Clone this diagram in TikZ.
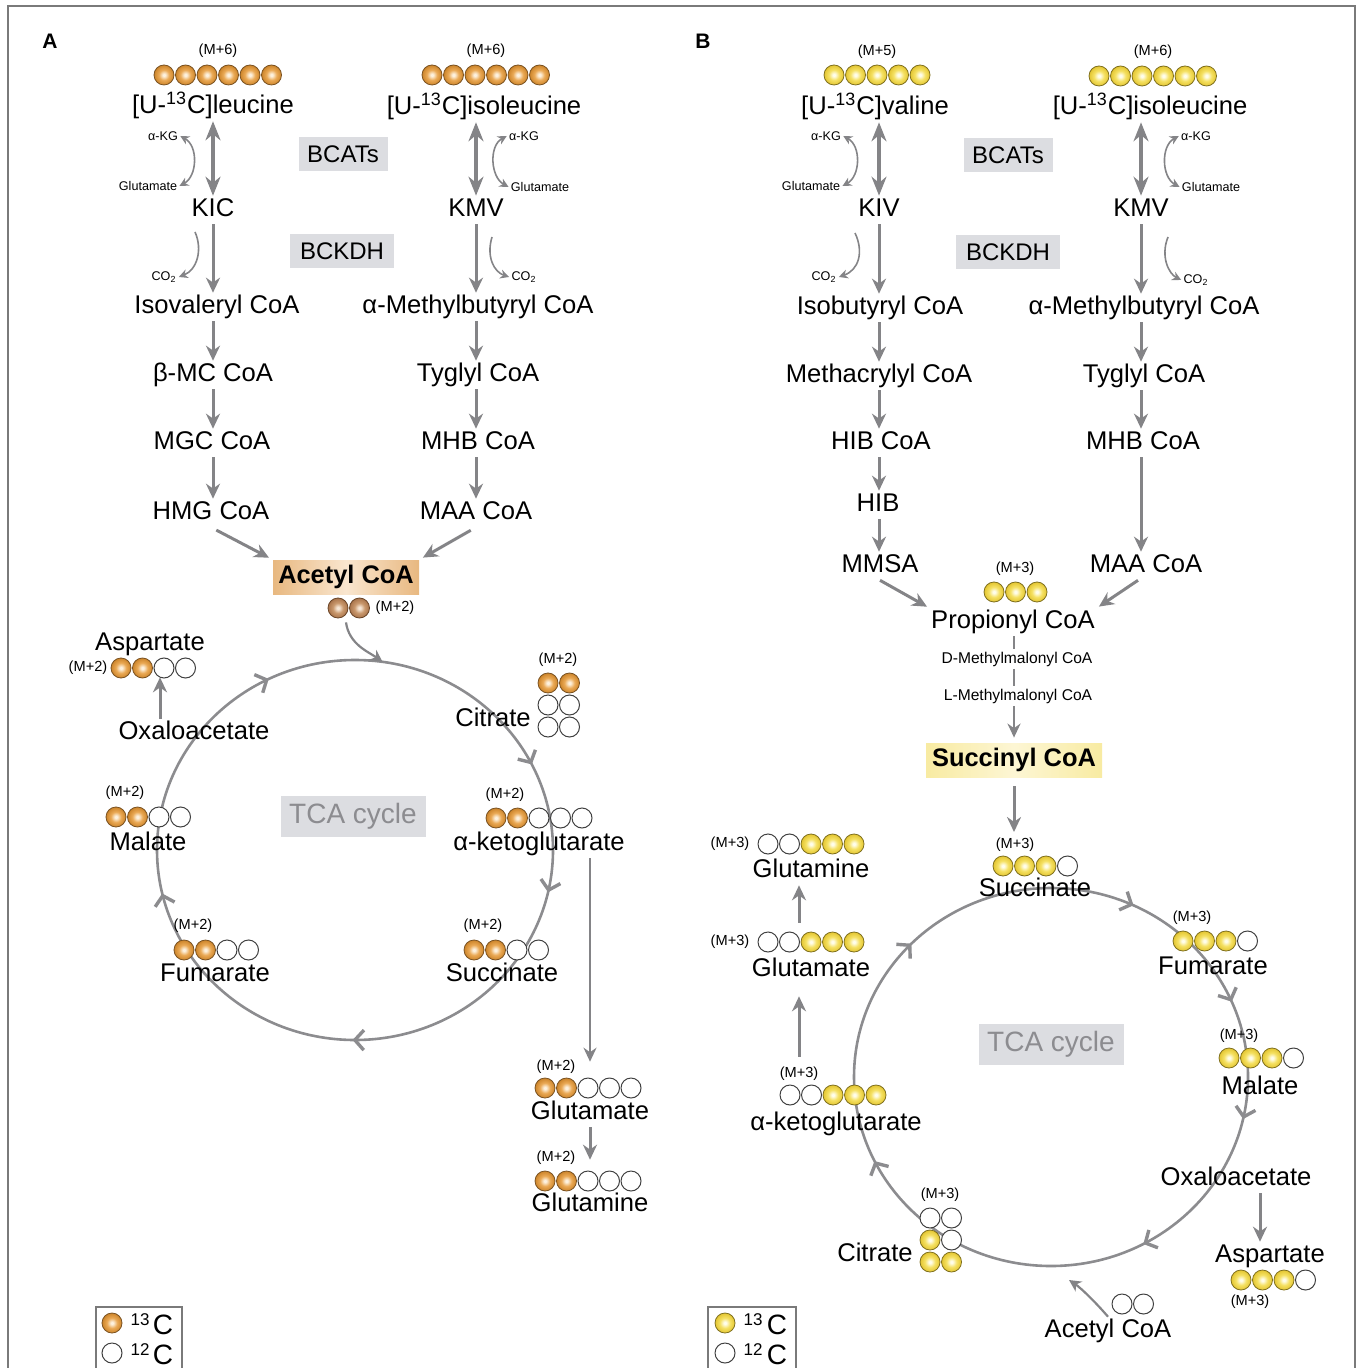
\documentclass[tikz,border=0pt]{standalone}
\usepackage{fontspec}
\setmainfont{Liberation Sans}
\usetikzlibrary{arrows.meta,decorations.markings}

\definecolor{arrgray}{HTML}{848487}
\definecolor{cycgray}{HTML}{8C8C8F}
\definecolor{boxgray}{HTML}{DCDDE1}
\definecolor{tcatext}{HTML}{8C8C90}
\definecolor{framegray}{HTML}{7A7A7A}
\definecolor{oin}{HTML}{FDF1DE}
\definecolor{omid}{HTML}{EAA955}
\definecolor{oout}{HTML}{CC842A}
\definecolor{odraw}{HTML}{7A5222}
\definecolor{yin}{HTML}{FFFDEA}
\definecolor{ymid}{HTML}{F5E163}
\definecolor{yout}{HTML}{E3C531}
\definecolor{ydraw}{HTML}{7E6F1E}
\definecolor{bin}{HTML}{F6E6D6}
\definecolor{bmid}{HTML}{C9986D}
\definecolor{bout}{HTML}{A9744B}
\definecolor{bdraw}{HTML}{6A4528}
\definecolor{acside}{HTML}{E8B880}
\definecolor{acmid}{HTML}{F9E6CF}
\definecolor{scside}{HTML}{F8EBA2}
\definecolor{scmid}{HTML}{FDF6D4}

\pgfdeclareradialshading{oball}{\pgfpoint{0bp}{0bp}}{color(0bp)=(oin); color(3bp)=(oin); color(13bp)=(omid); color(25bp)=(oout); color(50bp)=(oout)}
\pgfdeclareradialshading{yball}{\pgfpoint{0bp}{0bp}}{color(0bp)=(yin); color(3bp)=(yin); color(13bp)=(ymid); color(25bp)=(yout); color(50bp)=(yout)}
\pgfdeclareradialshading{bball}{\pgfpoint{0bp}{0bp}}{color(0bp)=(bin); color(3bp)=(bin); color(13bp)=(bmid); color(25bp)=(bout); color(50bp)=(bout)}

\tikzset{
  met/.style={font=\fontsize{12.8}{14}\selectfont, inner sep=1pt, text height=9.2pt, text depth=2.7pt},
  mlab/.style={font=\fontsize{7.3}{8}\selectfont, inner sep=1pt, text height=5.4pt, text depth=1.5pt},
  mmal/.style={font=\fontsize{7.8}{9}\selectfont, inner sep=1pt, text height=5.8pt, text depth=1.6pt},
  cofac/.style={font=\fontsize{6.3}{7}\selectfont, inner sep=1pt},
  panel/.style={font=\fontsize{10.5}{12}\selectfont\bfseries},
  enz/.style={fill=boxgray, font=\fontsize{12}{14}\selectfont, inner sep=0pt, minimum height=17pt},
  tca/.style={fill=boxgray, text=tcatext, font=\fontsize{14}{16}\selectfont, inner sep=0pt, minimum width=72.5pt, minimum height=20.5pt},
  hub/.style={font=\fontsize{12.7}{14}\selectfont\bfseries, inner sep=0pt, minimum height=17pt},
  legn/.style={font=\fontsize{8.5}{9}\selectfont, inner sep=0pt},
  legc/.style={font=\fontsize{14}{16}\selectfont, inner sep=0pt},
  arr/.style={draw=arrgray, line width=1.5pt, -{Stealth[length=7.5pt,width=7pt]}},
  darr/.style={draw=arrgray, line width=1.6pt, {Stealth[length=9.5pt,width=7.5pt]}-{Stealth[length=9.5pt,width=7.5pt]}},
  tarr/.style={draw=arrgray, line width=1.2pt, -{Stealth[length=7pt,width=6.5pt]}},
  sarr/.style={draw=arrgray, line width=0.8pt, -{Stealth[length=4.5pt,width=4.5pt]}},
  sdarr/.style={draw=arrgray, line width=0.8pt, {Stealth[length=4.5pt,width=4.5pt]}-{Stealth[length=4.5pt,width=4.5pt]}},
  feed/.style={draw=arrgray, line width=1.1pt, -{Stealth[length=6pt,width=6pt]}},
  link/.style={draw=arrgray, line width=1.3pt},
  chev/.tip={Straight Barb[length=4.5pt,width=10pt,line width=1.7pt]},
  cycleA/.style={draw=cycgray, line width=1.3pt, decoration={markings,
      mark=at position 0.035 with {\arrow{chev}},
      mark=at position 0.252 with {\arrow{chev}},
      mark=at position 0.464 with {\arrow{chev}},
      mark=at position 0.677 with {\arrow{chev}},
      mark=at position 0.927 with {\arrow{chev}}}, postaction={decorate}},
  cycleB/.style={draw=cycgray, line width=1.3pt, decoration={markings,
      mark=at position 0.035 with {\arrow{chev}},
      mark=at position 0.171 with {\arrow{chev}},
      mark=at position 0.428 with {\arrow{chev}},
      mark=at position 0.623 with {\arrow{chev}},
      mark=at position 0.820 with {\arrow{chev}},
      mark=at position 0.936 with {\arrow{chev}}}, postaction={decorate}},
  ora/.style={shade, shading=oball, draw=odraw, line width=0.4pt},
  yel/.style={shade, shading=yball, draw=ydraw, line width=0.4pt},
  brn/.style={shade, shading=bball, draw=bdraw, line width=0.4pt},
  wht/.style={fill=white, draw=black!75, line width=0.5pt},
  legbox/.style={draw=framegray, line width=0.6pt},
  frame/.style={draw=framegray, line width=1pt}
}

% one row of carbon atoms: first x, y, styles
\newcommand{\carbons}[3]{%
  \foreach \s [count=\i from 0] in {#3}{%
    \edef\dob{\noexpand\draw[\s]}%
    \dob ({#1+21.5*\i},#2) circle (10);}}

\begin{document}
\begin{tikzpicture}[x=0.5pt,y=-0.5pt]
    \useasboundingbox (0,0) rectangle (1360,1368);
    \draw[frame] (8,1368) -- (8,6) -- (1355,6) -- (1355,1368);

    % panel A
    \node[panel] (labA) at (50,41) {A};
    \node[mlab] (mleu) at (218,51) {(M+6)};
    \carbons{164}{75}{ora,ora,ora,ora,ora,ora}
    \node[met] (leu) at (213,107) {[U-\textsuperscript{13}C]leucine};
    \node[mlab] (mileA) at (486,51) {(M+6)};
    \carbons{432}{75}{ora,ora,ora,ora,ora,ora}
    \node[met] (ileA) at (484,108) {[U-\textsuperscript{13}C]isoleucine};
    \node[enz, minimum width=44.5pt] (bcatA) at (343,154) {BCATs};
    \node[enz, minimum width=52pt] (bckdhA) at (342,251) {BCKDH};
    \node[cofac] (akg1) at (163,136) {α-KG};
    \node[cofac] (glu1) at (148,186) {Glutamate};
    \node[cofac] (akg2) at (524,136) {α-KG};
    \node[cofac] (glu2) at (540,187) {Glutamate};
    \node[met] (kic) at (213,210) {KIC};
    \node[met] (kmvA) at (476,210) {KMV};
    \node[cofac] (co2a) at (164,277) {CO\textsubscript{2}};
    \node[cofac] (co2b) at (524,277) {CO\textsubscript{2}};
    \node[met] (isov) at (217,307) {Isovaleryl CoA};
    \node[met] (mbA) at (478,307) {α-Methylbutyryl CoA};
    \node[met] (bmc) at (213,375) {β-MC CoA};
    \node[met] (tygA) at (478,375) {Tyglyl CoA};
    \node[met] (mgc) at (212,443) {MGC CoA};
    \node[met] (mhbA) at (478,443) {MHB CoA};
    \node[met] (hmg) at (211,513) {HMG CoA};
    \node[met] (maaA) at (476,513) {MAA CoA};
    \node[hub, minimum width=73pt, left color=acside, right color=acside, middle color=acmid] (acoa) at (346,577) {Acetyl CoA};
    \carbons{338}{608}{brn,brn}
    \node[mlab] (macoa) at (395,608) {(M+2)};

    \draw[darr] (leu.south -| kic) -- (kic.north);
    \draw[arr] (kic.south) -- (isov.north -| kic);
    \draw[arr] (isov.south -| kic) -- (bmc.north -| kic);
    \draw[arr] (bmc.south -| kic) -- (mgc.north -| kic);
    \draw[arr] (mgc.south -| kic) -- (hmg.north -| kic);
    \draw[darr] (ileA.south -| kmvA) -- (kmvA.north);
    \draw[arr] (kmvA.south) -- (mbA.north -| kmvA);
    \draw[arr] (mbA.south -| kmvA) -- (tygA.north -| kmvA);
    \draw[arr] (tygA.south -| kmvA) -- (mhbA.north -| kmvA);
    \draw[arr] (mhbA.south -| kmvA) -- (maaA.north -| kmvA);
    \draw[sdarr] (akg1.east) .. controls +(18,10) and +(18,-10) .. (glu1.east);
    \draw[sdarr] (akg2.west) .. controls +(-18,10) and +(-18,-10) .. (glu2.west);
    \coordinate (kA1) at (195,232);
    \coordinate (kA2) at (492,237);
    \draw[sarr] (kA1) .. controls +(8,18) and +(18,-7) .. (co2a.east);
    \draw[sarr] (kA2) .. controls +(-6,20) and +(-15,-5) .. (co2b.west);
    \draw[arr, shorten <=3pt, shorten >=2pt] (hmg.south) -- (acoa.north west);
    \draw[arr, shorten <=3pt, shorten >=2pt] (maaA.south) -- (acoa.north east);

    \coordinate (cycA) at (355,850);
    \draw[cycleA] (cycA) ellipse [x radius=198, y radius=190];
    \coordinate (inA) at ([shift={(-82:198 and 190)}]cycA);
    \draw[feed] ([yshift=-14pt]acoa.south) .. controls +(3,22) and +(-14,-10) .. (inA);
    \node[tca] (tcaA) at (353,816) {TCA cycle};
    \node[met] (cit) at (493,720) {Citrate};
    \node[mlab] (mcit) at (558,660) {(M+2)};
    \carbons{548}{683}{ora,ora}
    \carbons{548}{705}{wht,wht}
    \carbons{548}{727}{wht,wht}
    \node[met] (akgA) at (539,844) {α-ketoglutarate};
    \node[mlab] (makgA) at (505,795) {(M+2)};
    \carbons{496}{818}{ora,ora,wht,wht,wht}
    \node[met] (sucA) at (502,975) {Succinate};
    \node[mlab] (msucA) at (483,926) {(M+2)};
    \carbons{474}{950}{ora,ora,wht,wht}
    \node[met] (fumA) at (215,975) {Fumarate};
    \node[mlab] (mfumA) at (193,926) {(M+2)};
    \carbons{184}{950}{ora,ora,wht,wht}
    \node[met] (malA) at (148,844) {Malate};
    \node[mlab] (mmalA) at (125,793) {(M+2)};
    \carbons{116}{817}{ora,ora,wht,wht}
    \node[met] (oaaA) at (194,733) {Oxaloacetate};
    \node[met] (aspA) at (150,644) {Aspartate};
    \node[mlab] (maspA) at (88,668) {(M+2)};
    \carbons{121}{668}{ora,ora,wht,wht}
    \draw[arr] ([xshift=-17pt]oaaA.north) -- ([xshift=-17pt]oaaA.north |- maspA.south);
    \node[met] (gluA) at (590,1113) {Glutamate};
    \node[mlab] (mgluA) at (556,1067) {(M+2)};
    \carbons{545}{1088}{ora,ora,wht,wht,wht}
    \node[met] (glnA) at (590,1205) {Glutamine};
    \node[mlab] (mglnA) at (556,1158) {(M+2)};
    \carbons{545}{1181}{ora,ora,wht,wht,wht}
    \draw[tarr, shorten >=18.5pt] (akgA.south -| gluA) -- (gluA.north);
    \draw[arr, shorten >=15.5pt] (gluA.south) -- (glnA.north);

    \draw[legbox] (96,1368) -- (96,1307) -- (182,1307) -- (182,1368);
    \carbons{112}{1323}{ora}
    \node[legn] (n13A) at (140,1320) {13};
    \node[legc] (c13A) at (163,1325) {C};
    \carbons{112}{1353}{wht}
    \node[legn] (n12A) at (140,1350) {12};
    \node[legc] (c12A) at (163,1355) {C};

    % panel B
    \node[panel] (labB) at (703,41) {B};
    \node[mlab] (mval) at (877,52) {(M+5)};
    \carbons{834}{75}{yel,yel,yel,yel,yel}
    \node[met] (val) at (875,108) {[U-\textsuperscript{13}C]valine};
    \node[mlab] (mileB) at (1153,52) {(M+6)};
    \carbons{1099}{76}{yel,yel,yel,yel,yel,yel}
    \node[met] (ileB) at (1150,108) {[U-\textsuperscript{13}C]isoleucine};
    \node[enz, minimum width=44.5pt] (bcatB) at (1008,155) {BCATs};
    \node[enz, minimum width=52pt] (bckdhB) at (1008,252) {BCKDH};
    \node[cofac] (akg3) at (826,136) {α-KG};
    \node[cofac] (glu3) at (811,186) {Glutamate};
    \node[cofac] (akg4) at (1196,136) {α-KG};
    \node[cofac] (glu4) at (1211,187) {Glutamate};
    \node[met] (kiv) at (879,210) {KIV};
    \node[met] (kmvB) at (1141,210) {KMV};
    \node[cofac] (co2c) at (824,277) {CO\textsubscript{2}};
    \node[cofac] (co2d) at (1196,280) {CO\textsubscript{2}};
    \node[met] (ibu) at (880,308) {Isobutyryl CoA};
    \node[met] (mbB) at (1144,308) {α-Methylbutyryl CoA};
    \node[met] (mac) at (879,376) {Methacrylyl CoA};
    \node[met] (tygB) at (1144,376) {Tyglyl CoA};
    \node[met] (hibc) at (881,443) {HIB CoA};
    \node[met] (mhbB) at (1143,443) {MHB CoA};
    \node[met] (hib) at (878,505) {HIB};
    \node[met] (mmsa) at (880,566) {MMSA};
    \node[met] (maaB) at (1146,566) {MAA CoA};
    \node[mlab] (mprop) at (1015,569) {(M+3)};
    \carbons{994}{592}{yel,yel,yel}
    \node[met] (prop) at (1013,622) {Propionyl CoA};
    \node[mmal] (dmm) at (1017,659) {D-Methylmalonyl CoA};
    \node[mmal] (lmm) at (1018,696) {L-Methylmalonyl CoA};
    \node[hub, minimum width=88pt, left color=scside, right color=scside, middle color=scmid] (sucoa) at (1014,760) {Succinyl CoA};

    \draw[darr] (val.south -| kiv) -- (kiv.north);
    \draw[arr] (kiv.south) -- (ibu.north -| kiv);
    \draw[arr] (ibu.south -| kiv) -- (mac.north -| kiv);
    \draw[arr] (mac.south -| kiv) -- (hibc.north -| kiv);
    \draw[arr] (hibc.south -| kiv) -- (hib.north -| kiv);
    \draw[arr] (hib.south -| kiv) -- (mmsa.north -| kiv);
    \draw[darr] (ileB.south -| kmvB) -- (kmvB.north);
    \draw[arr] (kmvB.south) -- (mbB.north -| kmvB);
    \draw[arr] (mbB.south -| kmvB) -- (tygB.north -| kmvB);
    \draw[arr] (tygB.south -| kmvB) -- (mhbB.north -| kmvB);
    \draw[arr] (mhbB.south -| kmvB) -- (maaB.north -| kmvB);
    \draw[sdarr] (akg3.east) .. controls +(18,10) and +(18,-10) .. (glu3.east);
    \draw[sdarr] (akg4.west) .. controls +(-18,10) and +(-18,-10) .. (glu4.west);
    \coordinate (kB1) at (855,233);
    \coordinate (kB2) at (1168,237);
    \draw[sarr] (kB1) .. controls +(9,19) and +(20,-7) .. (co2c.east);
    \draw[sarr] (kB2) .. controls +(-8,20) and +(-12,-6) .. (co2d.west);
    \draw[arr, shorten >=1pt] (mmsa.south) -- (prop.north west);
    \draw[arr, shorten >=1pt] ([xshift=-4pt]maaB.south) -- (prop.north east);
    \draw[link] (prop.south -| sucoa) -- (dmm.north -| sucoa);
    \draw[link] (dmm.south -| sucoa) -- (lmm.north -| sucoa);
    \draw[tarr, shorten >=2.5pt] (lmm.south -| sucoa) -- (sucoa.north);

    \coordinate (cycB) at (1051,1077);
    \draw[cycleB] (cycB) ellipse [x radius=197, y radius=189];
    \draw[arr, shorten <=4.5pt, shorten >=2pt] (sucoa.south) -- (sucoa.south |- 0,836);
    \node[tca] (tcaB) at (1051,1044) {TCA cycle};
    \node[mlab] (msucB) at (1015,845) {(M+3)};
    \carbons{1003}{866}{yel,yel,yel,wht}
    \node[met] (sucB) at (1035,890) {Succinate};
    \node[mlab] (mfumB) at (1192,918) {(M+3)};
    \carbons{1183}{941}{yel,yel,yel,wht}
    \node[met] (fumB) at (1213,968) {Fumarate};
    \node[mlab] (mmalB) at (1239,1036) {(M+3)};
    \carbons{1229}{1058}{yel,yel,yel,wht}
    \node[met] (malB) at (1260,1088) {Malate};
    \node[met] (oaaB) at (1236,1179) {Oxaloacetate};
    \node[met] (aspB) at (1270,1256) {Aspartate};
    \carbons{1241}{1280}{yel,yel,yel,wht}
    \node[mlab] (maspB) at (1250,1302) {(M+3)};
    \draw[arr] ([xshift=12pt]oaaB.south) -- ([xshift=12pt]oaaB.south |- aspB.north);
    \node[met] (acoaB) at (1108,1331) {Acetyl CoA};
    \carbons{1122}{1304}{wht,wht}
    \coordinate (inB) at (1069,1280);
    \draw[feed] (acoaB.north) .. controls +(-12,-14) and +(12,8) .. (inB);
    \node[met] (citB) at (875,1255) {Citrate};
    \node[mlab] (mcitB) at (940,1195) {(M+3)};
    \carbons{930}{1218}{wht,wht}
    \carbons{930}{1240}{yel,wht}
    \carbons{930}{1262}{yel,yel}
    \node[met] (akgB) at (836,1124) {α-ketoglutarate};
    \node[mlab] (makgB) at (799,1074) {(M+3)};
    \carbons{790}{1095}{wht,wht,yel,yel,yel}
    \node[met] (gluB) at (811,970) {Glutamate};
    \node[mlab] (mgluB) at (730,942) {(M+3)};
    \carbons{768}{942}{wht,wht,yel,yel,yel}
    \node[met] (glnB) at (811,871) {Glutamine};
    \node[mlab] (mglnB) at (730,844) {(M+3)};
    \carbons{768}{844}{wht,wht,yel,yel,yel}
    \draw[arr, shorten <=4pt, shorten >=6pt] (makgB.north) -- (gluB.south -| makgB);
    \draw[arr] ([yshift=16.5pt]gluB.north -| makgB) -- (glnB.south -| makgB);

    \draw[legbox] (708,1368) -- (708,1307) -- (796,1307) -- (796,1368);
    \carbons{725}{1323}{yel}
    \node[legn] (n13B) at (753,1320) {13};
    \node[legc] (c13B) at (777,1325) {C};
    \carbons{725}{1353}{wht}
    \node[legn] (n12B) at (753,1350) {12};
    \node[legc] (c12B) at (777,1355) {C};
\end{tikzpicture}
\end{document}
